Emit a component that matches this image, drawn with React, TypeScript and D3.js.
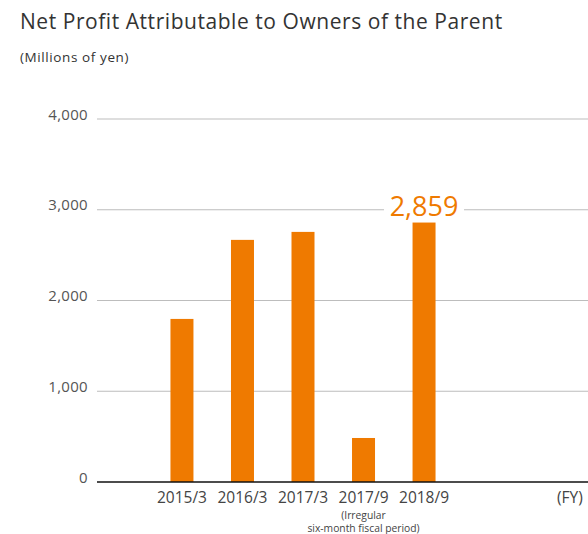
import React from "react";
import * as d3 from "d3";

const categories = ["2015/3", "2016/3", "2017/3", "2017/9", "2018/9"];
const values = [1797, 2668, 2756, 485, 2859];
const yTicks = [0, 1000, 2000, 3000, 4000];
const highlightLabel = "2,859";
const noteLines = ["(Irregular", "six-month fiscal period)"];
const title = "Net Profit Attributable to Owners of the Parent";
const subtitle = "(Millions of yen)";
const fyLabel = "(FY)";

const W = 588;
const H = 534;
const ORANGE = "#ef7a00";
const FONT = "'Open Sans', sans-serif";

export default function App() {
  const y = d3.scaleLinear().domain([0, 4000]).range([482, 119]);
  const x = d3
    .scaleBand<string>()
    .domain(categories)
    .range([151.7, 454.3])
    .paddingInner(0.62)
    .paddingOuter(0.31);
  const fmt = d3.format(",");
  const gridX0 = 97;
  const last = categories[categories.length - 1];
  const lastCx = (x(last) ?? 0) + x.bandwidth() / 2;
  const noteCx = (x("2017/9") ?? 0) + x.bandwidth() / 2;

  return (
    <svg
      width={W}
      height={H}
      style={{ position: "absolute", left: 0, top: 0, display: "block", background: "#fff" }}
      fontFamily={FONT}
    >
      <rect x={0} y={0} width={W} height={H} fill="#fff" />
      <text x={20} y={29} fontSize={21} letterSpacing={0.55} fill="#333">{title}</text>
      <text x={20} y={62} fontSize={13.5} letterSpacing={0.6} fill="#333">{subtitle}</text>

      {yTicks.map((t) =>
        t === 0 ? null : (
          <line key={t} x1={gridX0} x2={W} y1={y(t)} y2={y(t)} stroke="#bdbdbd" strokeWidth={1.2} />
        )
      )}
      {yTicks.map((t) => (
        <text key={"l" + t} x={88} y={y(t) + 0.5} textAnchor="end" fontSize={15} letterSpacing={0.3} fill="#555">
          {fmt(t)}
        </text>
      ))}

      {categories.map((c, i) => (
        <rect
          key={c}
          x={x(c)}
          y={y(values[i])}
          width={x.bandwidth()}
          height={y(0) - y(values[i])}
          fill={ORANGE}
        />
      ))}

      <line x1={gridX0} x2={W} y1={y(0)} y2={y(0)} stroke="#111" strokeWidth={1.5} />

      {categories.map((c) => (
        <text
          key={"x" + c}
          x={(x(c) ?? 0) + x.bandwidth() / 2}
          y={503}
          textAnchor="middle"
          fontSize={15.5}
          fill="#444"
        >
          {c}
        </text>
      ))}
      <text x={557} y={503} fontSize={15.5} fill="#444">{fyLabel}</text>

      {noteLines.map((l, i) => (
        <text key={l} x={noteCx} y={518.5 + i * 13} textAnchor="middle" fontSize={10.3} fill="#444">
          {l}
        </text>
      ))}

      <rect x={lastCx - 40} y={y(3000) - 3} width={80} height={6} fill="#fff" />
      <text x={lastCx} y={216} textAnchor="middle" fontSize={27} fill={ORANGE}>
        {highlightLabel}
      </text>
    </svg>
  );
}
